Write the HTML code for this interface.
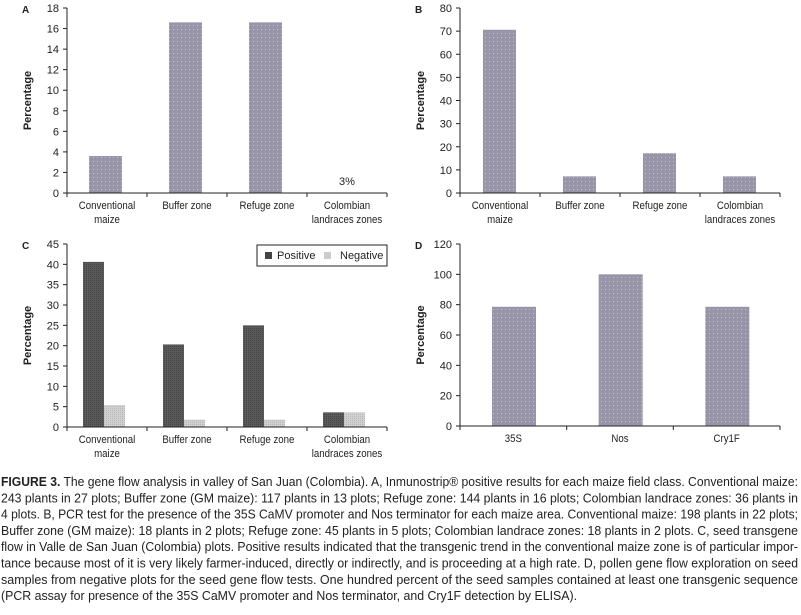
<!DOCTYPE html>
<html><head><meta charset="utf-8"><style>
body{margin:0;background:#fff;width:801px;height:610px;overflow:hidden}
svg text{font-family:"Liberation Sans Narrow","Liberation Sans",sans-serif;fill:#222}
</style></head><body>
<svg id="s" width="801" height="610">
<defs>
<pattern id="dots" width="4" height="4" patternUnits="userSpaceOnUse"><rect width="4" height="4" fill="#9895a8"/><rect x="1" y="1" width="1" height="1" fill="#c8c0c8"/></pattern>
<pattern id="dark" width="2" height="2" patternUnits="userSpaceOnUse"><rect width="2" height="2" fill="#5a5a5a"/><rect width="1" height="1" fill="#444"/></pattern>
<pattern id="light" width="2" height="2" patternUnits="userSpaceOnUse"><rect width="2" height="2" fill="#d0d0d0"/><rect width="1" height="1" fill="#b8b8b8"/></pattern>
</defs>
</svg>
<script>
const catsABC=[["Conventional","maize"],["Buffer zone"],["Refuge zone"],["Colombian","landraces zones"]];
const catsD=[["35S"],["Nos"],["Cry1F"]];
const valsA=[3.6,16.6,16.6,0];
const valsB=[70.6,7.2,17.2,7.2];
const valsCpos=[40.6,20.3,25,3.6];
const valsCneg=[5.4,1.8,1.8,3.6];
const valsD=[78.6,100,78.6];
const ticksA=[0,2,4,6,8,10,12,14,16,18];
const ticksB=[0,10,20,30,40,50,60,70,80];
const ticksC=[0,5,10,15,20,25,30,35,40,45];
const ticksD=[0,20,40,60,80,100,120];
const NS="http://www.w3.org/2000/svg";
const svg=document.getElementById('s');
function el(tag,attrs,parent,txt){const e=document.createElementNS(NS,tag);for(const k in attrs)e.setAttribute(k,attrs[k]);if(txt!==undefined)e.textContent=txt;(parent||svg).appendChild(e);return e;}
function chart(name,letter,x0,x1,yTop,yBot,ticks,cats,series,fills,barOff,barW){
  const g=el('g',{});
  
  
  const max=ticks[ticks.length-1];
  const y=v=>yBot-(v/max)*(yBot-yTop);
  const cw=(x1-x0)/cats.length;
  const lt=el('text',{x:x0-45,y:yTop+5,'font-size':10,'font-weight':'bold'},g,letter);
  
  
  series.forEach((vals,si)=>{
    vals.forEach((v,i)=>{
      if(v<=0)return;
      const r=el('rect',{x:x0+i*cw+barOff+si*barW,y:y(v),width:barW,height:yBot-y(v),fill:fills[si]},g);
      
      
    });
  });
  el('line',{x1:x0,y1:yTop,x2:x0,y2:yBot,stroke:'#222','stroke-width':1},g);
  el('line',{x1:x0,y1:yBot,x2:x1,y2:yBot,stroke:'#222','stroke-width':1},g);
  ticks.forEach(t=>{
    el('line',{x1:x0-4,y1:y(t),x2:x0,y2:y(t),stroke:'#222'},g);
    const tx=el('text',{x:x0-8,y:y(t)+4,'font-size':11,'text-anchor':'end'},g,String(t));
    
    
  });
  for(let i=0;i<=cats.length;i++)el('line',{x1:x0+i*cw,y1:yBot,x2:x0+i*cw,y2:yBot+4,stroke:'#222'},g);
  cats.forEach((c,i)=>{c.forEach((ln,j)=>{
    const cx=x0+(i+0.5)*cw, cy=yBot+16+j*14;
    const tx=el('text',{x:0,y:0,'font-size':11,'text-anchor':'middle',transform:`translate(${cx},${cy}) scale(0.88,1)`},g,ln);
    
    
  });});
  const yt=el('text',{transform:`translate(${x0-36},${(yTop+yBot)/2}) rotate(-90)`,'font-size':11,'font-weight':'bold','text-anchor':'middle'},g,'Percentage');
  
  
  return {g,y,cw};
}
const A=chart('chart-a','A',67,387,8,193,ticksA,catsABC,[valsA],['url(#dots)'],22,33);
const ann=el('text',{x:67+3.5*80,y:185,'font-size':11,'text-anchor':'middle'},A.g,'3%');


chart('chart-b','B',460,780,8,193,ticksB,catsABC,[valsB],['url(#dots)'],23,33);
const C=chart('chart-c','C',67,387,244,427,ticksC,catsABC,[valsCpos,valsCneg],['url(#dark)','url(#light)'],16,21);
const lg=el('g',{},C.g);


el('rect',{x:257,y:245,width:130,height:21,fill:'#fff',stroke:'#222'},lg);
el('rect',{x:265,y:252,width:7,height:7,fill:'#444'},lg);
const l1=el('text',{x:277,y:259,'font-size':11},lg,'Positive');


el('rect',{x:324,y:252,width:7,height:7,fill:'#ccc'},lg);
const l2=el('text',{x:340,y:259,'font-size':11},lg,'Negative');


chart('chart-d','D',460,780,244,426,ticksD,catsD,[valsD],['url(#dots)'],32,44);
const cap=["FIGURE 3. The gene flow analysis in valley of San Juan (Colombia). A, Inmunostrip® positive results for each maize field class. Conventional maize:",
"243 plants in 27 plots; Buffer zone (GM maize): 117 plants in 13 plots; Refuge zone: 144 plants in 16 plots; Colombian landrace zones: 36 plants in",
"4 plots. B, PCR test for the presence of the 35S CaMV promoter and Nos terminator for each maize area. Conventional maize: 198 plants in 22 plots;",
"Buffer zone (GM maize): 18 plants in 2 plots; Refuge zone: 45 plants in 5 plots; Colombian landrace zones: 18 plants in 2 plots. C, seed transgene",
"flow in Valle de San Juan (Colombia) plots. Positive results indicated that the transgenic trend in the conventional maize zone is of particular impor-",
"tance because most of it is very likely farmer-induced, directly or indirectly, and is proceeding at a high rate. D, pollen gene flow exploration on seed",
"samples from negative plots for the seed gene flow tests. One hundred percent of the seed samples contained at least one transgenic sequence",
"(PCR assay for presence of the 35S CaMV promoter and Nos terminator, and Cry1F detection by ELISA)."];
const cg=el('g',{});


cap.forEach((t,i)=>{
  const a={x:1,y:486+i*16.3,'font-size':12.5,lengthAdjust:'spacingAndGlyphs',textLength:(i<7?797:576)};
  const tx=el('text',a,cg,t);
  if(i===0){tx.textContent='';el('tspan',{'font-weight':'bold'},tx,'FIGURE 3.');el('tspan',{},tx,t.slice(9));}
});
</script>
</body></html>
